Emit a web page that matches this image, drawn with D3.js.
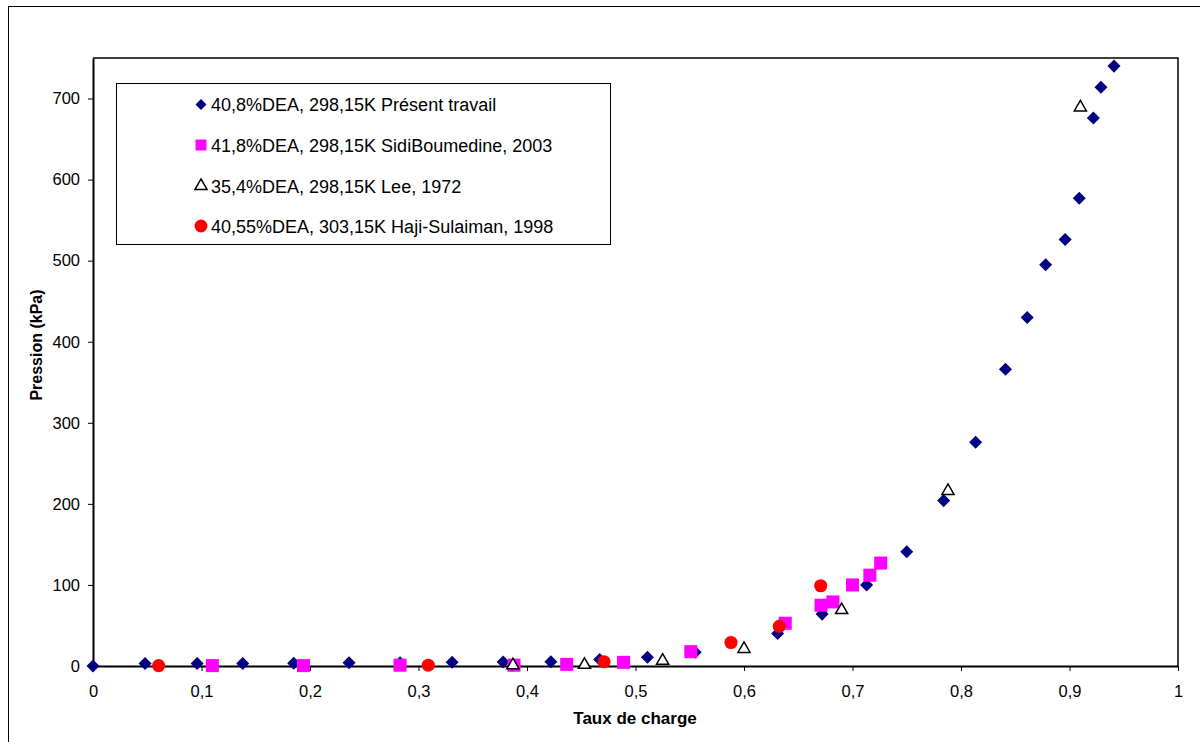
<!DOCTYPE html>
<html>
<head>
<meta charset="utf-8">
<script src="https://cdn.jsdelivr.net/npm/d3@7"></script>
<style>
  html, body { margin: 0; padding: 0; background: #fff; }
  svg { display: block; font-family: "Liberation Sans", Arial, sans-serif; }
</style>
</head>
<body>
<svg id="chart" width="1200" height="742"></svg>
<script>
// ---- Data ----
const presentX = [0, 0.048, 0.096, 0.138, 0.185, 0.236, 0.283, 0.331, 0.378, 0.422, 0.467, 0.511, 0.555, 0.631, 0.672, 0.713, 0.750, 0.784, 0.8135, 0.841, 0.861, 0.878, 0.896, 0.909, 0.922, 0.929, 0.941];
const presentY = [0, 3, 3, 3, 3.5, 4, 4, 4.5, 5, 5.3, 8, 10.7, 17, 40, 64, 100, 141, 204, 276, 366, 430, 495, 526, 577, 676, 714, 740];

const sidiX = [0.110, 0.194, 0.283, 0.388, 0.4366, 0.489, 0.551, 0.638, 0.671, 0.682, 0.700, 0.716, 0.726];
const sidiY = [0.5, 0.5, 1, 1, 2, 4.5, 17.7, 52.7, 75, 79, 100, 112, 127];

const leeX = [0.387, 0.453, 0.525, 0.600, 0.690, 0.788, 0.910];
const leeY = [1, 1.5, 6.5, 21, 69, 216, 689];

const hajiX = [0.0605, 0.309, 0.471, 0.588, 0.6325, 0.6707];
const hajiY = [0.5, 1, 5.3, 29, 49, 99];

const seriesNames = [
  "40,8%DEA, 298,15K Présent travail",
  "41,8%DEA, 298,15K SidiBoumedine, 2003",
  "35,4%DEA, 298,15K Lee, 1972",
  "40,55%DEA, 303,15K  Haji-Sulaiman, 1998"
];

const xTicks = [0, 0.1, 0.2, 0.3, 0.4, 0.5, 0.6, 0.7, 0.8, 0.9, 1];
const yTicks = [0, 100, 200, 300, 400, 500, 600, 700];
const xTitle = "Taux de charge";
const yTitle = "Pression (kPa)";

// ---- Layout ----
const svg = d3.select("#chart");
const pLeft = 93, pRight = 1178, pTop = 58, pBottom = 666;

const x = d3.scaleLinear().domain([0, 1]).range([pLeft, pRight]);
const y = d3.scaleLinear().domain([0, 750]).range([pBottom, pTop]);

// outer frame
svg.append("rect").attr("x", 8.5).attr("y", 6.5).attr("width", 1200).attr("height", 800)
  .attr("fill", "none").attr("stroke", "#000").attr("stroke-width", 1);

// plot area frame (top & right)
svg.append("path")
  .attr("d", `M${pLeft},${pTop}H${pRight}V${pBottom}`)
  .attr("fill", "none").attr("stroke", "#000").attr("stroke-width", 1.5);

// axes
const fmt = d => String(d).replace(".", ",");
const xAxis = svg.append("g").attr("transform", `translate(0,${pBottom})`)
  .call(d3.axisBottom(x).tickValues(xTicks).tickFormat(fmt).tickSize(5).tickSizeOuter(0).tickPadding(14));
const yAxis = svg.append("g").attr("transform", `translate(${pLeft},0)`)
  .call(d3.axisLeft(y).tickValues(yTicks).tickFormat(d => d).tickSize(5).tickSizeOuter(0).tickPadding(8));
[xAxis, yAxis].forEach(g => {
  g.select(".domain").attr("stroke", "#000").attr("stroke-width", 2);
  g.selectAll(".tick line").attr("stroke", "#000").attr("stroke-width", 1);
  g.selectAll("text").attr("font-family", "Liberation Sans, Arial, sans-serif")
    .attr("font-size", 16.5).attr("fill", "#000");
});

// axis titles
svg.append("text").attr("x", 635).attr("y", 724).attr("text-anchor", "middle")
  .attr("font-size", 17).attr("font-weight", "bold").text(xTitle);
svg.append("text").attr("transform", "translate(42,345) rotate(-90)").attr("text-anchor", "middle")
  .attr("font-size", 16).attr("font-weight", "bold").text(yTitle);

// marker symbols
const sym = {
  diamond: d3.symbol().type(d3.symbolSquare).size(85),
  square: d3.symbol().type(d3.symbolSquare).size(170),
  triangle: d3.symbol().type(d3.symbolTriangle).size(64),
  circle: d3.symbol().type(d3.symbolCircle).size(135)
};
const fills = { diamond: "#000080", square: "#ff00ff", circle: "#ff0000", triangle: "#fff" };

function drawSeries(xs, ys, kind) {
  const data = xs.map((v, i) => ({ x: v, y: ys[i] }));
  const g = svg.append("g");
  g.selectAll("path").data(data).enter().append("path")
    .attr("transform", d => `translate(${x(d.x)},${y(d.y)})` + (kind === "diamond" ? " rotate(45)" : ""))
    .attr("d", sym[kind]())
    .attr("fill", fills[kind])
    .attr("stroke", kind === "triangle" ? "#000" : "none")
    .attr("stroke-width", 1.5);
}

drawSeries(presentX, presentY, "diamond");
drawSeries(sidiX, sidiY, "square");
drawSeries(leeX, leeY, "triangle");
drawSeries(hajiX, hajiY, "circle");

// legend
const lg = svg.append("g");
lg.append("rect").attr("x", 116.5).attr("y", 83.5).attr("width", 494).attr("height", 161)
  .attr("fill", "#fff").attr("stroke", "#000").attr("stroke-width", 1);
const kinds = ["diamond", "square", "triangle", "circle"];
const legSize = { diamond: 60, square: 120, triangle: 64, circle: 130 };
const rowsY = [104.5, 145, 186, 226];
kinds.forEach((k, i) => {
  lg.append("path")
    .attr("transform", `translate(201,${rowsY[i]})` + (k === "diamond" ? " rotate(45)" : ""))
    .attr("d", d3.symbol().type(k === "triangle" ? d3.symbolTriangle : k === "circle" ? d3.symbolCircle : d3.symbolSquare).size(legSize[k])())
    .attr("fill", fills[k])
    .attr("stroke", k === "triangle" ? "#000" : "none").attr("stroke-width", 1.5);
  lg.append("text").attr("x", 211).attr("y", rowsY[i] + 6.5)
    .attr("font-size", 18).attr("fill", "#000").text(seriesNames[i]);
});
</script>
</body>
</html>
